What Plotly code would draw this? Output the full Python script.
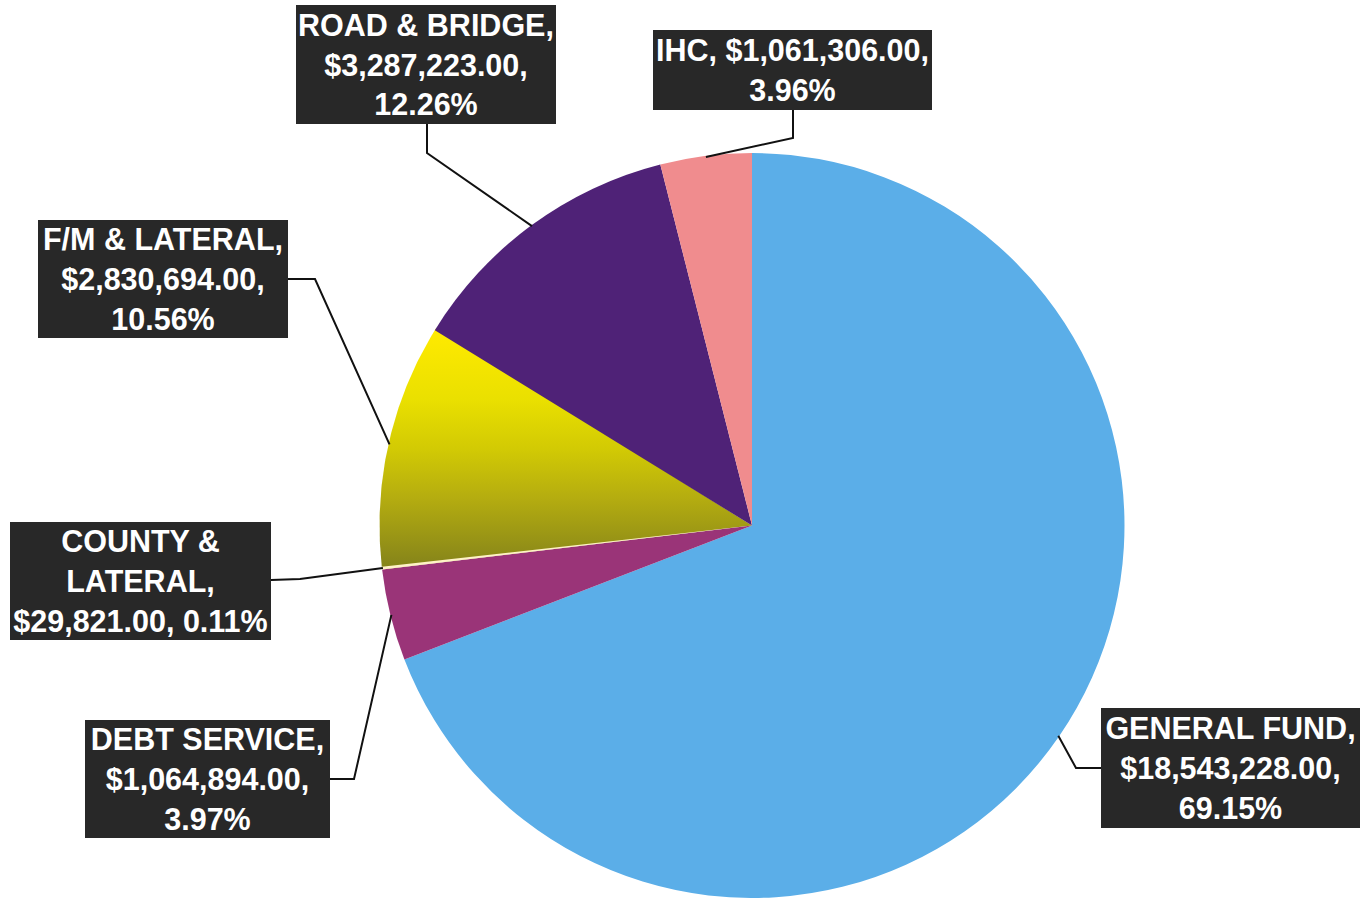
import numpy as np
import plotly.graph_objects as go

# ---- data -------------------------------------------------------------
funds = ["GENERAL FUND", "DEBT SERVICE", "COUNTY & LATERAL",
         "F/M & LATERAL", "ROAD & BRIDGE", "IHC"]
amounts = [18543228.00, 1064894.00, 29821.00, 2830694.00, 3287223.00, 1061306.00]

# how each callout breaks its text into lines
label_templates = [
    "{name},<br>{amt},<br>{pct}",
    "{name},<br>{amt},<br>{pct}",
    "COUNTY &<br>LATERAL,<br>{amt}, {pct}",
    "{name},<br>{amt},<br>{pct}",
    "{name},<br>{amt},<br>{pct}",
    "{name}, {amt},<br>{pct}",
]

# ---- styling / layout ------------------------------------------------
# the F/M & LATERAL wedge is left clear in the pie and painted by a shaded overlay
colors = ["#5BAEE8", "#9A3478", "#FFF3C6", "rgba(0,0,0,0)", "#4F2277", "#F08C8E"]
W, H = 1363, 898
CX, CY, R = 752.0, 525.5, 372.5          # pie centre / radius in pixels

# callout boxes: left, top, width, height, and the elbow of the leader line
boxes = {
    "GENERAL FUND":     (1101, 708, 259, 120, [(1101, 768), (1076, 768)]),
    "DEBT SERVICE":     (85, 720, 245, 118, [(330, 779), (354, 779)]),
    "COUNTY & LATERAL": (10, 522, 261, 118, [(271, 580), (300, 579)]),
    "F/M & LATERAL":    (38, 220, 250, 118, [(288, 279), (315, 279)]),
    "ROAD & BRIDGE":    (296, 5, 260, 119, [(427, 124), (427, 153)]),
    "IHC":              (653, 30, 279, 80, [(793, 110), (793, 138)]),
}

total = sum(amounts)
fracs = [a / total for a in amounts]
cum_start = np.concatenate([[0.0], np.cumsum(fracs)[:-1]])


def polar_px(frac, radius):
    """Screen position of a point on the pie, measured clockwise from 12 o'clock."""
    th = 2 * np.pi * frac
    return CX + radius * np.sin(th), CY - radius * np.cos(th)


fig = go.Figure()

# shaded wedge for F/M & LATERAL (yellow fading to olive), sits under the pie layer
i_fm = funds.index("F/M & LATERAL")
arc = np.linspace(cum_start[i_fm] - 0.001, cum_start[i_fm] + fracs[i_fm] + 0.001, 90)
ax_, ay_ = polar_px(arc, R)
fig.add_trace(go.Scatter(
    x=np.concatenate([[CX], ax_, [CX]]), y=np.concatenate([[CY], ay_, [CY]]),
    mode="lines", line=dict(width=0), fill="toself",
    fillgradient=dict(type="vertical", start=330, stop=568,
                      colorscale=[[0, "#FFEA00"], [0.29, "#EAE000"],
                                  [0.5, "#D2CA04"], [0.71, "#B4AC10"],
                                  [1, "#84831A"]]),
    hoverinfo="skip", showlegend=False,
))

fig.add_trace(go.Pie(
    labels=funds, values=amounts, sort=False, direction="clockwise", rotation=0,
    marker=dict(colors=colors, line=dict(width=0)),
    textinfo="none", hoverinfo="label+value+percent", showlegend=False,
    domain=dict(x=[(CX - R) / W, (CX + R) / W], y=[(H - CY - R) / H, (H - CY + R) / H]),
))

shapes = []
annotations = []
for i, name in enumerate(funds):
    left, top, bw, bh, elbow = boxes[name]
    pct = f"{fracs[i] * 100:.2f}%"
    amt = f"${amounts[i]:,.2f}"
    text = label_templates[i].format(name=name, amt=amt, pct=pct)
    annotations.append(dict(
        x=left, y=top, xref="x", yref="y", xanchor="left", yanchor="top",
        width=bw, height=bh, text=text, showarrow=False, align="center",
        bgcolor="#282828", borderpad=0, borderwidth=0,
        font=dict(family="Liberation Sans, Arial, sans-serif", size=30.5,
                  color="white", weight="bold"),
    ))
    # leader line from the callout to the middle of its wedge
    mx, my = polar_px(cum_start[i] + fracs[i] / 2, R - 1)
    pts = elbow + [(mx, my)]
    path = "M " + " L ".join(f"{px:.1f},{py:.1f}" for px, py in pts)
    shapes.append(dict(type="path", path=path, xref="x", yref="y",
                       line=dict(color="#111111", width=2)))

fig.update_layout(
    width=W, height=H, margin=dict(l=0, r=0, t=0, b=0),
    paper_bgcolor="white", plot_bgcolor="rgba(0,0,0,0)",
    xaxis=dict(range=[0, W], visible=False, fixedrange=True),
    yaxis=dict(range=[H, 0], visible=False, fixedrange=True),
    shapes=shapes, annotations=annotations, showlegend=False,
)

fig.write_html("out.html")
